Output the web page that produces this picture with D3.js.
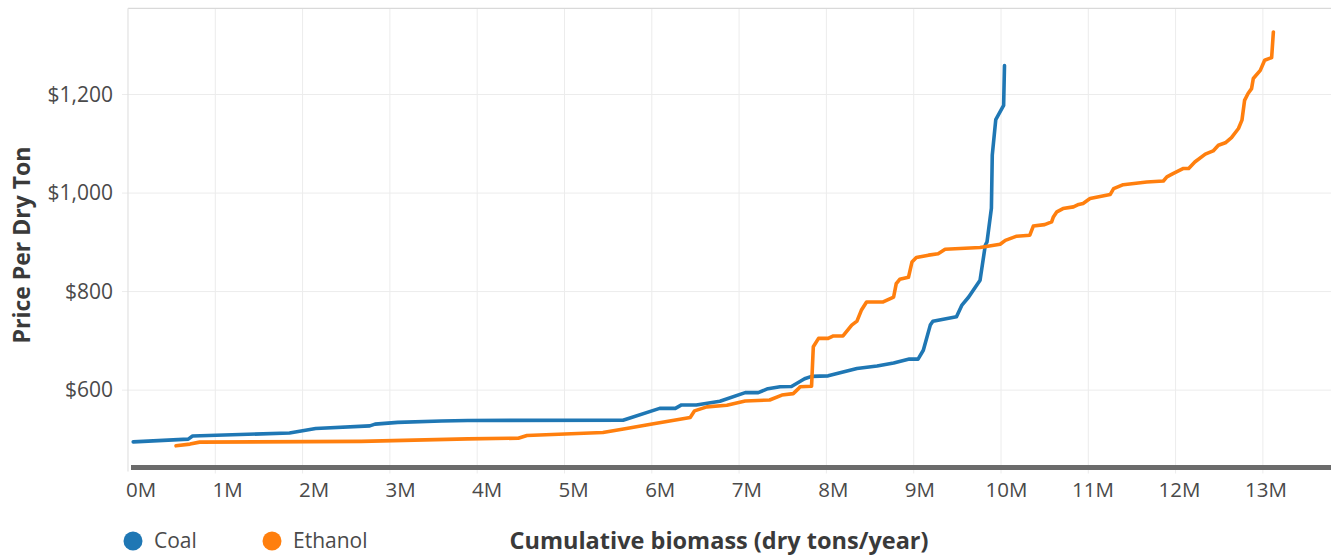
<!DOCTYPE html>
<html>
<head>
<meta charset="utf-8">
<script src="https://cdn.jsdelivr.net/npm/d3@7"></script>
<style>
  html, body { margin: 0; padding: 0; background: #fff; }
  svg { display: block; font-family: "Open Sans", sans-serif; }
</style>
</head>
<body>
<svg id="chart" width="1331" height="556"></svg>
<script>
// ---- Data (cumulative biomass in millions of dry tons/year, price $/dry ton) ----
const seriesNames = ["Coal", "Ethanol"];
const seriesColors = ["#1f77b4", "#ff7f0e"];

const coalTons = [0.06, 0.69, 0.74, 1.85, 2.15, 2.77, 2.83, 3.09, 3.59, 3.89, 5.67, 6.09, 6.27, 6.34, 6.51, 6.78,
  7.07, 7.22, 7.33, 7.47, 7.60, 7.75, 7.83, 8.02, 8.35, 8.58, 8.77, 8.95, 9.05, 9.11, 9.19, 9.22, 9.34, 9.49,
  9.55, 9.63, 9.76, 9.82, 9.84, 9.89, 9.90, 9.94, 10.03, 10.04];
const coalPrice = [495, 500.5, 507, 513, 522, 527.5, 531, 534.5, 537.5, 538.5, 539, 563, 563, 570, 570, 577.5,
  595, 595, 603, 607, 607.5, 623, 628, 629, 644, 649, 655, 663, 663, 681, 732, 740, 744, 749,
  772, 789, 823, 894, 901, 969, 1077, 1149, 1178, 1259];

const ethanolTons = [0.55, 0.71, 0.82, 2.67, 3.89, 4.47, 4.57, 5.44, 5.71, 6.02, 6.44, 6.49, 6.63, 6.86, 7.07,
  7.35, 7.49, 7.62, 7.68, 7.70, 7.83, 7.85, 7.91, 8.02, 8.08, 8.19, 8.29, 8.35, 8.40, 8.46, 8.65, 8.77, 8.80,
  8.84, 8.94, 8.98, 9.03, 9.17, 9.28, 9.36, 9.76, 9.99, 10.05, 10.18, 10.33, 10.37, 10.50, 10.58, 10.60, 10.64,
  10.71, 10.83, 10.89, 10.94, 11.02, 11.25, 11.29, 11.40, 11.67, 11.86, 11.90, 11.97, 12.09, 12.15, 12.22,
  12.34, 12.43, 12.49, 12.57, 12.64, 12.72, 12.76, 12.79, 12.83, 12.87, 12.89, 12.97, 13.02, 13.10, 13.12];
const ethanolPrice = [487, 490.5, 494.5, 496, 501, 502.5, 508, 514, 522, 532, 544.5, 558, 566, 569.5, 578,
  580, 590, 593, 603, 607, 608, 688, 705, 705, 710, 710, 732, 740, 762, 779, 779, 789, 816,
  825, 829, 860, 869, 874, 877, 886, 889.5, 896, 904, 912.5, 914.5, 933, 936, 941.5, 951.5, 962,
  968.5, 972, 977, 979, 989, 997, 1009, 1017, 1022.5, 1024.5, 1033, 1039.5, 1050, 1050, 1063,
  1079, 1085.5, 1097, 1102, 1112.5, 1131, 1148, 1188, 1202, 1212, 1232.5, 1249, 1269.5, 1275, 1327];

const xTickValues = [0, 1, 2, 3, 4, 5, 6, 7, 8, 9, 10, 11, 12, 13];
const xTickLabels = ["0M", "1M", "2M", "3M", "4M", "5M", "6M", "7M", "8M", "9M", "10M", "11M", "12M", "13M"];
const yTickValues = [600, 800, 1000, 1200];
const yTickLabels = ["$600", "$800", "$1,000", "$1,200"];

const xTitle = "Cumulative biomass (dry tons/year)";
const yTitle = "Price Per Dry Ton";

// ---- Layout ----
const svg = d3.select("#chart");
const mLeft = 128, mRight = 1331, mTop = 8.3, mBottom = 467.5;

const x = d3.scaleLinear().domain([0, 13.78]).range([mLeft, mRight]);
const xLabel = d3.scaleLinear().domain([0, 13]).range([141, 1266]); // label placement
const y = d3.scaleLinear().domain([443, 1375]).range([mBottom, mTop]);

// gridlines vertical
svg.append("g").selectAll("line").data(xTickValues.slice(1)).join("line")
  .attr("x1", d => x(d)).attr("x2", d => x(d))
  .attr("y1", mTop).attr("y2", mBottom + 6)
  .attr("stroke", "#ececec").attr("stroke-width", 1);

// gridlines horizontal + tick marks
svg.append("g").selectAll("line").data(yTickValues).join("line")
  .attr("x1", mLeft - 6).attr("x2", mRight)
  .attr("y1", d => y(d)).attr("y2", d => y(d))
  .attr("stroke", "#ececec").attr("stroke-width", 1);

// top border
svg.append("line").attr("x1", mLeft).attr("x2", mRight).attr("y1", mTop).attr("y2", mTop)
  .attr("stroke", "#d9d9d9").attr("stroke-width", 1.2);
// left axis line
svg.append("line").attr("x1", mLeft).attr("x2", mLeft).attr("y1", mTop).attr("y2", mBottom + 4)
  .attr("stroke", "#e2e2e2").attr("stroke-width", 1.2);

// y tick labels
svg.append("g").selectAll("text").data(yTickValues).join("text")
  .attr("x", 113).attr("y", d => y(d))
  .attr("dy", "0.35em")
  .attr("text-anchor", "end")
  .attr("font-size", 21).attr("fill", "#4a4a4a")
  .text((d, i) => yTickLabels[i]);

// x tick labels
svg.append("g").selectAll("text").data(xTickValues).join("text")
  .attr("x", d => xLabel(d)).attr("y", 497)
  .attr("text-anchor", "middle")
  .attr("font-size", 20.5).attr("fill", "#4a4a4a")
  .text((d, i) => xTickLabels[i]);

// series lines
const line = d3.line().x(d => x(d[0])).y(d => y(d[1]));
const coalData = d3.zip(coalTons, coalPrice);
const ethanolData = d3.zip(ethanolTons, ethanolPrice);
[coalData, ethanolData].forEach((data, i) => {
  svg.append("path").datum(data)
    .attr("d", line)
    .attr("fill", "none")
    .attr("stroke", seriesColors[i])
    .attr("stroke-width", 3.6)
    .attr("stroke-linejoin", "round")
    .attr("stroke-linecap", "round");
});

// thick bottom baseline
svg.append("line").attr("x1", mLeft + 3).attr("x2", mRight).attr("y1", mBottom).attr("y2", mBottom)
  .attr("stroke", "#6b6b6b").attr("stroke-width", 5);

// y title
svg.append("text")
  .attr("transform", `translate(30, 245) rotate(-90)`)
  .attr("text-anchor", "middle")
  .attr("font-size", 23).attr("font-weight", 700).attr("fill", "#3a3a3a")
  .text(yTitle);

// x title
svg.append("text")
  .attr("x", 719).attr("y", 549)
  .attr("text-anchor", "middle")
  .attr("font-size", 23.5).attr("font-weight", 700).attr("fill", "#3a3a3a")
  .text(xTitle);

// legend
const legendX = [133, 272];
const lg = svg.append("g").selectAll("g").data(seriesNames).join("g")
  .attr("transform", (d, i) => `translate(${legendX[i]}, 541)`);
lg.append("circle").attr("r", 9.5).attr("fill", (d, i) => seriesColors[i]);
lg.append("text").attr("x", 21).attr("dy", "0.35em")
  .attr("font-size", 21).attr("fill", "#4a4a4a").text(d => d);
</script>
</body>
</html>
